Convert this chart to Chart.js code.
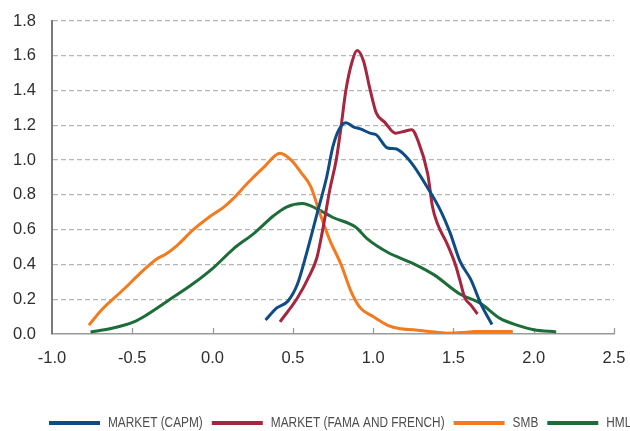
<!DOCTYPE html>
<html>
<head>
<meta charset="utf-8">
<script src="https://cdn.jsdelivr.net/npm/chart.js@4/dist/chart.umd.min.js"></script>
<style>
  html, body { margin: 0; padding: 0; background: #fff; overflow: hidden; }
  #wrap { width: 630px; height: 431px; position: relative; }
</style>
</head>
<body>
<div id="wrap"><canvas id="chart"></canvas></div>
<script>
// Series names (legend order)
const seriesNames = ['MARKET (CAPM)', 'MARKET (FAMA AND FRENCH)', 'SMB', 'HML'];

// Axis ticks
const xTicks = [-1.0, -0.5, 0.0, 0.5, 1.0, 1.5, 2.0, 2.5];
const yTicks = [0.0, 0.2, 0.4, 0.6, 0.8, 1.0, 1.2, 1.4, 1.6, 1.8];

// Density estimates: coefficient (x) and density (y)
const capmX = [0.33, 0.40, 0.47, 0.53, 0.59, 0.65, 0.71, 0.75, 0.79, 0.83, 0.88, 0.92, 0.98, 1.02, 1.09, 1.14, 1.19, 1.25, 1.34, 1.42, 1.48, 1.54, 1.61, 1.67, 1.74];
const capmY = [0.08, 0.15, 0.19, 0.29, 0.48, 0.69, 0.90, 1.08, 1.18, 1.215, 1.19, 1.18, 1.155, 1.145, 1.07, 1.065, 1.035, 0.97, 0.84, 0.71, 0.58, 0.42, 0.31, 0.175, 0.055];

const ffX = [0.42, 0.53, 0.60, 0.65, 0.69, 0.73, 0.77, 0.80, 0.83, 0.87, 0.90, 0.94, 0.98, 1.02, 1.07, 1.14, 1.19, 1.24, 1.28, 1.34, 1.37, 1.40, 1.46, 1.51, 1.54, 1.57, 1.61, 1.65];
const ffY = [0.07, 0.21, 0.33, 0.44, 0.62, 0.83, 1.00, 1.19, 1.40, 1.57, 1.63, 1.57, 1.41, 1.27, 1.22, 1.155, 1.165, 1.175, 1.11, 0.92, 0.73, 0.635, 0.52, 0.405, 0.31, 0.21, 0.165, 0.115];

const smbX = [-0.77, -0.70, -0.55, -0.45, -0.35, -0.29, -0.22, -0.12, -0.01, 0.07, 0.13, 0.22, 0.32, 0.42, 0.49, 0.55, 0.61, 0.67, 0.73, 0.80, 0.86, 0.92, 1.00, 1.09, 1.17, 1.25, 1.35, 1.46, 1.55, 1.63, 1.75, 1.87];
const smbY = [0.05, 0.13, 0.26, 0.35, 0.43, 0.46, 0.51, 0.60, 0.68, 0.73, 0.78, 0.87, 0.96, 1.04, 1.00, 0.93, 0.85, 0.69, 0.54, 0.40, 0.25, 0.15, 0.10, 0.05, 0.03, 0.025, 0.015, 0.005, 0.008, 0.014, 0.015, 0.015];

const hmlX = [-0.76, -0.64, -0.49, -0.41, -0.28, -0.12, 0.01, 0.13, 0.26, 0.38, 0.46, 0.56, 0.65, 0.75, 0.89, 0.96, 1.09, 1.25, 1.38, 1.54, 1.67, 1.79, 1.90, 2.00, 2.14];
const hmlY = [0.012, 0.03, 0.07, 0.11, 0.19, 0.29, 0.385, 0.49, 0.58, 0.68, 0.73, 0.75, 0.72, 0.67, 0.615, 0.55, 0.47, 0.405, 0.34, 0.23, 0.175, 0.09, 0.05, 0.025, 0.012];

const seriesColors = ['#0f4c85', '#a6253f', '#f47a20', '#1d6d39'];

const toPoints = (xs, ys) => xs.map((x, i) => ({ x: x, y: ys[i] }));
const seriesData = [toPoints(capmX, capmY), toPoints(ffX, ffY), toPoints(smbX, smbY), toPoints(hmlX, hmlY)];

// Short upward tick marks on the x axis
const innerTicks = {
  id: 'innerTicks',
  beforeDatasetsDraw(chart) {
    const { ctx, scales: { x } } = chart;
    const y0 = chart.chartArea.bottom;
    ctx.save();
    ctx.strokeStyle = '#9a9a9a';
    ctx.lineWidth = 1.3;
    xTicks.slice(1).forEach(v => {
      const px = Math.round(x.getPixelForValue(v)) + 0.5;
      ctx.beginPath();
      ctx.moveTo(px, y0);
      ctx.lineTo(px, y0 - 6);
      ctx.stroke();
    });
    ctx.restore();
  }
};

// Single-row legend along the bottom edge, condensed lettering
const bottomLegend = {
  id: 'bottomLegend',
  afterDraw(chart, args, opts) {
    const ctx = chart.ctx;
    ctx.save();
    ctx.font = opts.font;
    ctx.textBaseline = 'middle';
    let x = opts.x;
    const y = opts.y;
    chart.data.datasets.forEach(ds => {
      ctx.strokeStyle = ds.borderColor;
      ctx.lineWidth = opts.lineWidth;
      ctx.lineCap = 'butt';
      ctx.beginPath();
      ctx.moveTo(x, y);
      ctx.lineTo(x + opts.lineLength, y);
      ctx.stroke();
      x += opts.lineLength + opts.gap;
      const w = ctx.measureText(ds.label).width * opts.squeeze;
      ctx.save();
      ctx.translate(x, y);
      ctx.scale(opts.squeeze, 1);
      ctx.fillStyle = opts.color;
      ctx.fillText(ds.label, 0, 0);
      ctx.restore();
      x += w + opts.gap + 1;
    });
    ctx.restore();
  }
};

new Chart(document.getElementById('chart'), {
  type: 'line',
  data: {
    datasets: seriesNames.map((name, i) => ({
      label: name,
      data: seriesData[i],
      borderColor: seriesColors[i],
      backgroundColor: seriesColors[i],
      borderWidth: 3,
      pointRadius: 0,
      pointHoverRadius: 0,
      fill: false,
      tension: 0.4,
      cubicInterpolationMode: 'monotone'
    }))
  },
  options: {
    responsive: true,
    maintainAspectRatio: false,
    animation: false,
    events: [],
    layout: { padding: { top: 21, right: 16, left: 0, bottom: 0 } },
    plugins: {
      legend: { display: false },
      tooltip: { enabled: false },
      bottomLegend: {
        x: 49, y: 423, lineLength: 51, lineWidth: 4, gap: 8, squeeze: 0.79,
        font: '15px "Liberation Sans", Arial, sans-serif',
        color: '#4d4d4d'
      }
    },
    scales: {
      x: {
        type: 'linear',
        min: xTicks[0],
        max: xTicks[xTicks.length - 1],
        afterBuildTicks: s => { s.ticks = xTicks.map(v => ({ value: v })); },
        afterFit: s => { s.height = 97; s.paddingLeft = 0; s.paddingRight = 0; },
        grid: { display: false, drawTicks: false },
        border: { display: true, color: '#9a9a9a', width: 1.5 },
        ticks: {
          padding: 15,
          color: '#2e2e2e',
          font: { family: '"Liberation Sans", Arial, sans-serif', size: 16.5 },
          callback: v => v.toFixed(1)
        }
      },
      y: {
        min: yTicks[0],
        max: yTicks[yTicks.length - 1],
        afterBuildTicks: s => { s.ticks = yTicks.map(v => ({ value: v })); },
        afterFit: s => { s.width = 52; s.paddingTop = 0; s.paddingBottom = 0; },
        grid: {
          drawTicks: false,
          color: ctx => ctx.tick && ctx.tick.value === 0 ? 'rgba(0,0,0,0)' : '#b5b5b5',
          lineWidth: 1.3
        },
        border: { display: true, color: '#7a7a7a', width: 2, dash: [5, 3] },
        ticks: {
          padding: 16,
          color: '#2e2e2e',
          font: { family: '"Liberation Sans", Arial, sans-serif', size: 16.5 },
          callback: v => v.toFixed(1)
        }
      }
    }
  },
  plugins: [innerTicks, bottomLegend]
});
</script>
</body>
</html>
